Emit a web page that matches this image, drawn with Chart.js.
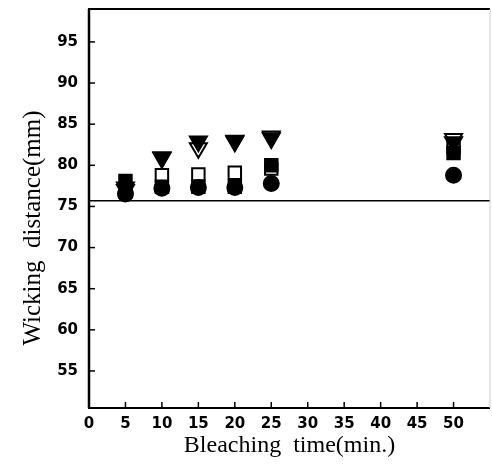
<!DOCTYPE html>
<html>
<head>
<meta charset="utf-8">
<script src="https://cdn.jsdelivr.net/npm/chart.js@4/dist/chart.umd.min.js"></script>
<style>
html,body{margin:0;padding:0;background:#fff;}
#wrap{width:492px;height:467px;}
</style>
</head>
<body>
<div id="wrap"><canvas id="c" width="492" height="467"></canvas></div>
<script>
// Data
const times = [5, 10, 15, 20, 25, 50];
const filledCircle   = [76.5, 77.2, 77.3, 77.3, 77.8, 78.8];
const openSquare     = [76.8, 78.8, 78.9, 79.1, 79.6, 82.2];
const filledSquare   = [78.1, 77.4, 77.4, 77.4, 80.0, 81.5];
const filledTriangle = [77.3, 81.0, 82.9, 83.0, 83.3, 82.8];
const openTriangle   = [77.0, 80.9, 82.1, 82.9, 83.5, 83.2];
const referenceLevel = 75.7;
const xTicks = [0, 5, 10, 15, 20, 25, 30, 35, 40, 45, 50];
const yTicks = [55, 60, 65, 70, 75, 80, 85, 90, 95];
const xTitle = 'Bleaching  time(min.)';
const yTitle = 'Wicking  distance(mm)';

const pts = arr => times.map((t, i) => ({x: t, y: arr[i]}));

const frame = {
  id: 'frame',
  afterDatasetsDraw(chart) {
    const {ctx, chartArea: a, scales} = chart;
    ctx.save();
    ctx.strokeStyle = '#000';
    ctx.lineCap = 'butt';
    // inward ticks
    ctx.lineWidth = 1.5;
    yTicks.forEach(v => {
      const y = scales.y.getPixelForValue(v);
      ctx.beginPath(); ctx.moveTo(a.left, y); ctx.lineTo(a.left + 6, y); ctx.stroke();
    });
    xTicks.forEach(v => {
      const x = scales.x.getPixelForValue(v);
      ctx.beginPath(); ctx.moveTo(x, a.bottom); ctx.lineTo(x, a.bottom - 6); ctx.stroke();
    });
    // frame
    ctx.lineWidth = 2.5;
    ctx.beginPath(); ctx.moveTo(a.left, a.top); ctx.lineTo(a.left, a.bottom); ctx.stroke();
    ctx.lineWidth = 2.2;
    ctx.beginPath(); ctx.moveTo(a.left - 1, a.top); ctx.lineTo(a.right, a.top); ctx.stroke();
    ctx.beginPath(); ctx.moveTo(a.left - 1, a.bottom); ctx.lineTo(a.right, a.bottom); ctx.stroke();
    ctx.strokeStyle = '#ccc'; ctx.lineWidth = 1;
    ctx.beginPath(); ctx.moveTo(a.right, a.top); ctx.lineTo(a.right, a.bottom); ctx.stroke();
    // y title
    ctx.fillStyle = '#000';
    ctx.font = '25px "Liberation Serif"';
    ctx.textAlign = 'center'; ctx.textBaseline = 'middle';
    ctx.translate(33, 228);
    ctx.rotate(-Math.PI / 2);
    ctx.fillText(yTitle, 0, 0);
    ctx.restore();
  }
};

const mk = (label, arr, style, fill, radius, rotation, order) => ({
  type: 'scatter', label, data: pts(arr), pointStyle: style,
  pointRadius: radius, pointHoverRadius: radius, pointRotation: rotation,
  pointBackgroundColor: fill, pointBorderColor: '#000', pointBorderWidth: 2,
  showLine: false, order
});

new Chart(document.getElementById('c'), {
  data: {
    datasets: [
      {type: 'line', label: 'ref', data: [{x: 0, y: referenceLevel}, {x: 55, y: referenceLevel}],
       borderColor: '#000', borderWidth: 1.6, pointRadius: 0, order: 10},
      mk('open square', openSquare, 'rect', '#fff', 8.8, 0, 6),
      mk('open triangle', openTriangle, 'triangle', '#fff', 9.8, 180, 5),
      mk('filled circle', filledCircle, 'circle', '#000', 7.5, 0, 4),
      mk('filled square', filledSquare, 'rect', '#000', 8.8, 0, 3),
      mk('filled triangle', filledTriangle, 'triangle', '#000', 9.8, 180, 2)
    ]
  },
  options: {
    responsive: false,
    animation: false,
    events: [],
    layout: {autoPadding: false, padding: {top: 9, right: 2, left: 0, bottom: 0}},
    plugins: {legend: {display: false}, tooltip: {enabled: false}},
    scales: {
      x: {
        type: 'linear', min: 0, max: 55,
        afterBuildTicks: s => { s.ticks = xTicks.map(v => ({value: v})); },
        afterFit: s => { s.height = 59; s.paddingLeft = 0; s.paddingRight = 0; },
        grid: {display: false, drawTicks: false},
        border: {display: false},
        ticks: {padding: 7, color: '#000', font: {family: 'DejaVu Sans', size: 15, weight: 'bold'}},
        title: {display: true, text: xTitle, color: '#000', padding: {top: 0, bottom: 7},
                font: {family: 'Liberation Serif', size: 24}}
      },
      y: {
        type: 'linear', min: 50.5, max: 99,
        afterBuildTicks: s => { s.ticks = yTicks.map(v => ({value: v})); },
        afterFit: s => { s.width = 89; s.paddingTop = 0; s.paddingBottom = 0; },
        grid: {display: false, drawTicks: false},
        border: {display: false},
        ticks: {padding: 11, color: '#000', font: {family: 'DejaVu Sans', size: 15, weight: 'bold'}}
      }
    }
  },
  plugins: [frame]
});
</script>
</body>
</html>
